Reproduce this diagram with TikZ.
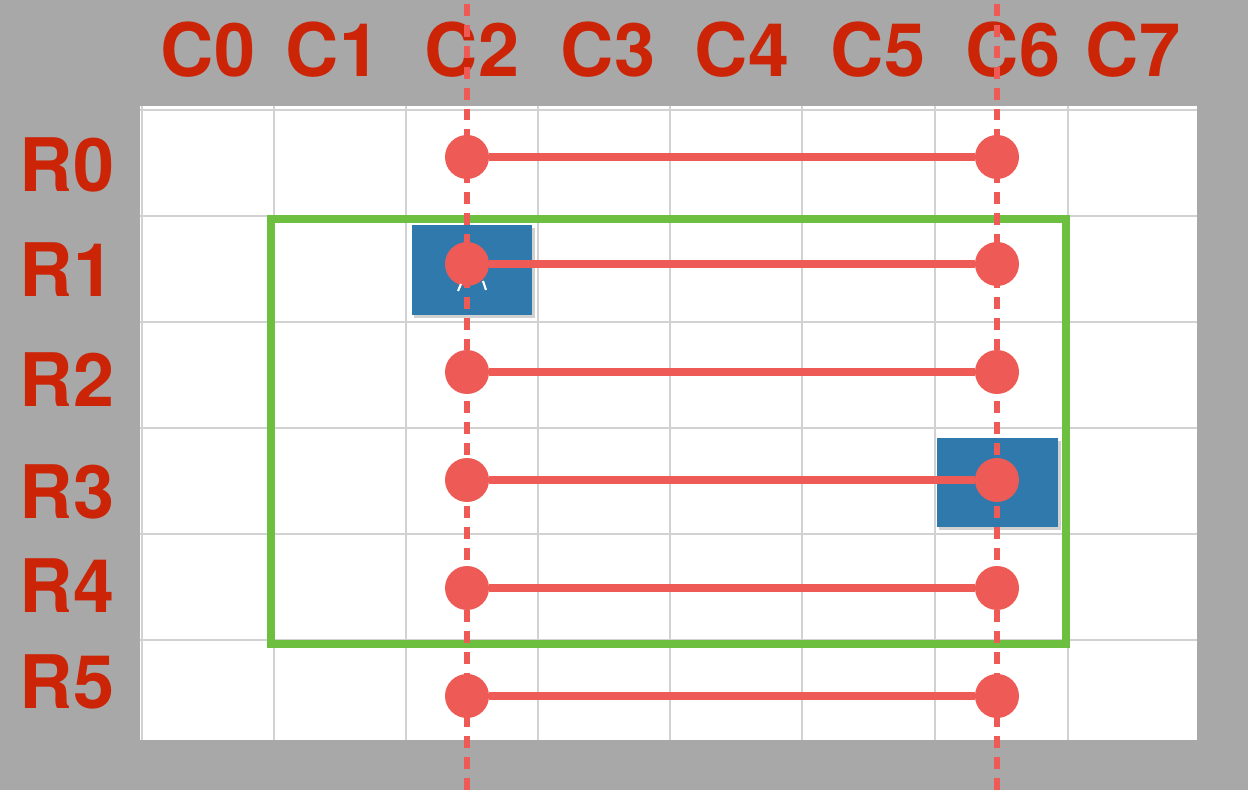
\documentclass[tikz,border=0pt]{standalone}
\usepackage{fontspec}
\setmainfont{TeX Gyre Heros}
\usepackage{tikz}
\usetikzlibrary{positioning, calc}

\definecolor{bggray}{HTML}{A7A8A7}
\definecolor{lblred}{HTML}{CC2407}
\definecolor{dotred}{HTML}{EE5A55}
\definecolor{boxgreen}{HTML}{6DBF40}
\definecolor{cellblue}{HTML}{2F79AD}
\definecolor{gridgray}{HTML}{D2D2D2}

\begin{document}
\begin{tikzpicture}[x=0.02cm,y=-0.02cm]
	\def \colleft{467}
	\def \colright{997}
	\def \rowbase{77}
	\tikzstyle{c-lbl}=[anchor=base,inner sep=0pt,text=lblred,font=\fontsize{42}{42}\selectfont\bfseries]
	\tikzstyle{d-node}=[circle,fill=dotred,inner sep=0pt,minimum size=0.88cm]
	\tikzstyle{g-line}=[draw=gridgray,line width=1.2pt]
	\tikzstyle{h-line}=[draw=dotred,line width=4.8pt]
	\tikzstyle{v-dash}=[draw=dotred,line width=3.4pt,dash pattern=on 6.8pt off 5.1pt]
	\tikzstyle{b-cell}=[fill=cellblue]
	\useasboundingbox (0,0) rectangle (1248,790);

	% board
	\fill[bggray] (0,0) rectangle (1248,790);
	\fill[white] (140,106) rectangle (1197,740);
	\foreach \gx in {142,274,406,538,670,802,935,1068}
		\draw[g-line] (\gx,106) -- (\gx,740);
	\foreach \gy in {110,216,322,428,534,640}
		\draw[g-line] (140,\gy) -- (1197,\gy);

	% column labels
	\node[c-lbl] (c0) at (208,\rowbase) {C0};
	\node[c-lbl] (c1) at (333,\rowbase) {C1};
	\node[c-lbl] (c2) at (472,\rowbase) {C2};
	\node[c-lbl] (c3) at (608,\rowbase) {C3};
	\node[c-lbl] (c4) at (742,\rowbase) {C4};
	\node[c-lbl] (c5) at (878,\rowbase) {C5};
	\node[c-lbl] (c6) at (1013,\rowbase) {C6};
	\node[c-lbl] (c7) at (1133,\rowbase) {C7};

	% row labels
	\node[c-lbl] (r0) at (67,192) {R0};
	\node[c-lbl] (r1) at (67,297) {R1};
	\node[c-lbl] (r2) at (67,407) {R2};
	\node[c-lbl] (r3) at (67,519) {R3};
	\node[c-lbl] (r4) at (67,612) {R4};
	\node[c-lbl] (r5) at (67,708) {R5};

	% selection
	\draw[boxgreen,line width=4.5pt] (271,219) rectangle (1066,644);

	% blue cells
	\fill[black,opacity=0.18] (414,228) rectangle (535,318);
	\fill[b-cell] (412,225) rectangle (532,315);
	\fill[black,opacity=0.18] (939,441) rectangle (1061,530);
	\fill[b-cell] (937,438) rectangle (1058,527);

	% dots
	\node[d-node] (d00) at (\colleft,157) {};
	\node[d-node] (d06) at (\colright,157) {};
	\node[d-node] (d10) at (\colleft,264) {};
	\node[d-node] (d16) at (\colright,264) {};
	\node[d-node] (d20) at (\colleft,372) {};
	\node[d-node] (d26) at (\colright,372) {};
	\node[d-node] (d30) at (\colleft,480) {};
	\node[d-node] (d36) at (\colright,480) {};
	\node[d-node] (d40) at (\colleft,588) {};
	\node[d-node] (d46) at (\colright,588) {};
	\node[d-node] (d50) at (\colleft,696) {};
	\node[d-node] (d56) at (\colright,696) {};

	\path[h-line] (d00) edge (d06)
		(d10) edge (d16)
		(d20) edge (d26)
		(d30) edge (d36)
		(d40) edge (d46)
		(d50) edge (d56);

	% columns
	\coordinate (top0) at (\colleft,4);
	\coordinate (bot0) at (\colleft,790);
	\coordinate (top6) at (\colright,4);
	\coordinate (bot6) at (\colright,790);
	\draw[v-dash] (top0) -- (bot0);
	\draw[v-dash] (top6) -- (bot6);

	% marks under d10
	\draw[white,line width=1.2pt] (458,291) -- (461,284);
	\draw[white,line width=1.2pt] (483,281) -- (486,290);
\end{tikzpicture}
\end{document}
